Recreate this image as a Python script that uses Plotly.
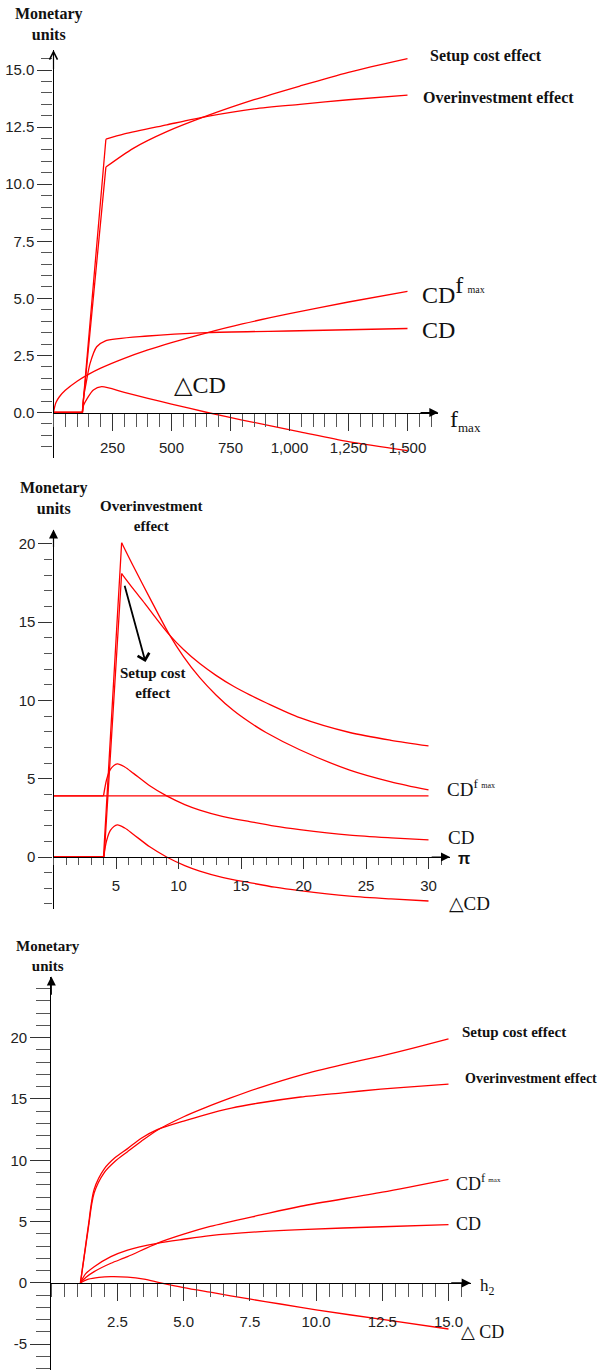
import plotly.graph_objects as go

W, H = 602, 1370
RED = "#ff0000"
SERIF = "Liberation Serif, Times New Roman, DejaVu Serif, serif"
SANS = "Liberation Sans, Arial, Helvetica, sans-serif"

# ---------------- Panel 1 : f_max ----------------
f_setup_x = [0, 122, 222, 338, 480, 652, 850, 1044, 1250, 1500]
f_setup_y = [0, 0, 10.75, 11.57, 12.3, 13.0, 13.7, 14.3, 14.9, 15.5]
f_over_x = [0, 122, 222, 300, 480, 652, 850, 1044, 1250, 1500]
f_over_y = [0, 0, 11.97, 12.2, 12.6, 12.97, 13.3, 13.5, 13.7, 13.9]
f_cdf_x = [0, 10, 25, 50, 100, 150, 200, 300, 400, 500, 650, 800, 1000, 1250, 1500]
f_cdf_y = [0, 0.43, 0.69, 0.97, 1.37, 1.68, 1.94, 2.37, 2.74, 3.06, 3.49, 3.88, 4.33, 4.84, 5.31]
f_cd_x = [0, 123, 128, 138, 155, 183, 218, 400, 650, 1044, 1500]
f_cd_y = [0, 0, 0.7, 1.28, 2.15, 2.88, 3.13, 3.35, 3.5, 3.58, 3.68]
f_dcd_x = [0, 123, 127, 143, 169, 204, 300, 400, 500, 652, 800, 1044, 1250, 1500]
f_dcd_y = [0, 0, 0.3, 0.62, 0.99, 1.13, 0.88, 0.62, 0.37, 0.0, -0.33, -0.85, -1.28, -1.67]
f_xticks = [250, 500, 750, 1000, 1250, 1500]
f_yticks = [0, 2.5, 5.0, 7.5, 10.0, 12.5, 15.0]

# ---------------- Panel 2 : pi ----------------
p_over_x = [0, 4.0, 5.45, 6.4, 7.7, 9.2, 10.4, 11.7, 13.0, 14.4, 15.7, 17.0, 19.7, 23.7, 27.0, 30.0]
p_over_y = [0, 0, 20.07, 18.55, 16.55, 14.3, 12.8, 11.45, 10.35, 9.35, 8.6, 7.95, 6.85, 5.55, 4.8, 4.28]
p_setup_x = [0, 4.05, 5.45, 6.4, 7.3, 8.2, 9.2, 10.4, 11.7, 13.0, 14.4, 15.7, 17.0, 19.7, 23.7, 27.0, 30.0]
p_setup_y = [0, 0, 18.1, 17.1, 16.2, 15.25, 14.25, 13.25, 12.35, 11.6, 10.9, 10.35, 9.85, 8.9, 7.95, 7.45, 7.09]
p_cdf_x = [0, 30]
p_cdf_y = [3.9, 3.9]
p_cd_x = [0, 4.0, 4.25, 4.55, 5.1, 5.7, 6.4, 7.7, 9.05, 10.5, 11.7, 13.5, 15.7, 17.7, 19.7, 23.7, 27.0, 30.0]
p_cd_y = [3.9, 3.9, 4.95, 5.6, 5.95, 5.75, 5.34, 4.55, 3.9, 3.35, 3.0, 2.6, 2.26, 1.97, 1.75, 1.4, 1.22, 1.09]
p_dcd_x = [0, 4.0, 4.25, 4.55, 5.1, 5.7, 6.4, 7.7, 9.05, 10.5, 11.7, 13.5, 15.7, 17.7, 19.7, 23.7, 27.0, 30.0]
p_dcd_y = [0, 0, 1.05, 1.7, 2.05, 1.85, 1.44, 0.65, 0, -0.55, -0.9, -1.3, -1.64, -1.93, -2.15, -2.5, -2.68, -2.81]
p_xticks = [5, 10, 15, 20, 25, 30]
p_yticks = [0, 5, 10, 15, 20]

# ---------------- Panel 3 : h2 ----------------
h_eff_x = [1.1, 1.43, 1.62, 2.0, 2.4, 2.88, 3.4, 4.0, 5.0, 5.77, 6.8, 7.91, 9.42, 11.0, 12.44, 13.7, 15.0]
h_setup_y = [0, 4.95, 7.35, 9.0, 9.9, 10.7, 11.55, 12.45, 13.55, 14.25, 15.1, 15.95, 16.95, 17.8, 18.5, 19.17, 19.9]
h_over_y = [0, 5.15, 7.65, 9.3, 10.2, 10.95, 11.8, 12.5, 13.2, 13.69, 14.25, 14.69, 15.16, 15.5, 15.8, 16.0, 16.2]
h_cd_x = [1.1, 1.3, 1.62, 2.25, 2.88, 4.0, 5.0, 6.0, 7.91, 9.42, 12.5, 15.0]
h_cd_y = [0, 0.75, 1.32, 2.14, 2.68, 3.23, 3.56, 3.85, 4.18, 4.35, 4.58, 4.75]
h_cdf_y = [0, 0.45, 0.92, 1.6, 2.14, 3.23, 3.97, 4.6, 5.54, 6.25, 7.4, 8.45]
h_dcd_x = [1.1, 1.4, 1.8, 2.25, 2.88, 3.5, 4.13, 5.0, 6.0, 7.53, 8.65, 10.0, 12.5, 15.0]
h_dcd_y = [0, 0.3, 0.45, 0.51, 0.47, 0.3, 0, -0.38, -0.76, -1.33, -1.72, -2.2, -2.98, -3.76]
h_xticks = [2.5, 5.0, 7.5, 10.0, 12.5, 15.0]
h_yticks = [-5, 0, 5, 10, 15, 20]

# ---------------- layout geometry (pixels) ----------------
# (x_origin_px, x_px_per_unit, x_end_px, y_zero_px, y_px_per_unit, y_top_px, y_bot_px)
geo = {
    1: (53.5, 0.236, 438.3, 412.5, 22.83, 50.0, 458.0),
    2: (53.5, 12.5, 450.0, 857.0, 15.66, 529.5, 908.5),
    3: (51.3, 26.48, 470.7, 1282.9, 12.264, 976.5, 1370.0),
}


def px2paper(x, y):
    return x / W, 1 - y / H


fig = go.Figure()


def add_line(panel, xs, ys, kink):
    """Straight segments up to index `kink`, smooth curve from there on."""
    sfx = "" if panel == 1 else str(panel)
    common = dict(mode="lines", xaxis="x" + sfx, yaxis="y" + sfx, showlegend=False,
                  hoverinfo="skip")
    if kink > 0:
        fig.add_trace(go.Scatter(x=xs[:kink + 1], y=ys[:kink + 1],
                                 line=dict(color=RED, width=1.3), **common))
    fig.add_trace(go.Scatter(x=xs[kink:], y=ys[kink:],
                             line=dict(color=RED, width=1.3, shape="spline", smoothing=0.8),
                             **common))


for xs, ys, k in [(f_setup_x, f_setup_y, 2), (f_over_x, f_over_y, 2), (f_cdf_x, f_cdf_y, 0),
                  (f_cd_x, f_cd_y, 1), (f_dcd_x, f_dcd_y, 1)]:
    add_line(1, xs, ys, k)
for xs, ys, k in [(p_over_x, p_over_y, 2), (p_setup_x, p_setup_y, 2), (p_cdf_x, p_cdf_y, 0),
                  (p_cd_x, p_cd_y, 1), (p_dcd_x, p_dcd_y, 1)]:
    add_line(2, xs, ys, k)
for xs, ys, k in [(h_eff_x, h_setup_y, 1), (h_eff_x, h_over_y, 1), (h_cd_x, h_cdf_y, 0),
                  (h_cd_x, h_cd_y, 0), (h_dcd_x, h_dcd_y, 0)]:
    add_line(3, xs, ys, k)


def fmt(vals, spec):
    if spec == ",":
        return [f"{v:,}" for v in vals]
    if spec == ".1f":
        return [f"{v:.1f}" for v in vals]
    return [f"{v:g}" for v in vals]


tick_spec = {
    1: dict(xt=f_xticks, xf=",", xminor=50, yt=f_yticks, yf=".1f", yminor=0.5,
            xlen=(17, 13), ylen=(15, 11), xstand=4),
    2: dict(xt=p_xticks, xf="g", xminor=1, yt=p_yticks, yf="g", yminor=1,
            xlen=(11, 7), ylen=(14, 8), xstand=4),
    3: dict(xt=h_xticks, xf=".1f", xminor=0.5, yt=h_yticks, yf="g", yminor=1,
            xlen=(17, 13), ylen=(20, 14), xstand=8),
}

annotations = []
for p in (1, 2, 3):
    x0, xppu, xend, y0, yppu, ytop, ybot = geo[p]
    xr = [0, (xend - x0) / xppu]
    yr = [-(ybot - y0) / yppu, (y0 - ytop) / yppu]
    ts = tick_spec[p]
    sfx = "" if p == 1 else str(p)
    xa = dict(domain=[x0 / W, xend / W], range=xr, anchor="free", position=1 - y0 / H,
              showline=True, linecolor="black", linewidth=1.2, showgrid=False, zeroline=False,
              ticks="outside", ticklen=ts["xlen"][0], tickwidth=1.3, tickcolor="#333",
              tickmode="array", tickvals=ts["xt"], ticktext=fmt(ts["xt"], ts["xf"]),
              ticklabelstandoff=ts["xstand"],
              tickfont=dict(family=SANS, size=15, color="#222"),
              minor=dict(tickmode="linear", tick0=0, dtick=ts["xminor"], ticks="outside",
                         ticklen=ts["xlen"][1], tickwidth=1.3, tickcolor="#555", showgrid=False),
              fixedrange=True)
    ya = dict(domain=[1 - ybot / H, 1 - ytop / H], range=yr, anchor="x" + sfx,
              showline=True, linecolor="black", linewidth=1.2, showgrid=False, zeroline=False,
              ticks="outside", ticklen=ts["ylen"][0], tickwidth=1.3, tickcolor="#333",
              tickmode="array", tickvals=ts["yt"], ticktext=fmt(ts["yt"], ts["yf"]),
              tickfont=dict(family=SANS, size=15, color="#222"),
              minor=dict(tickmode="linear", tick0=0, dtick=ts["yminor"], ticks="outside",
                         ticklen=ts["ylen"][1], tickwidth=1.3, tickcolor="#555", showgrid=False),
              fixedrange=True)
    fig.update_layout(**{"xaxis" + sfx: xa, "yaxis" + sfx: ya})

    # axis arrows
    annotations.append(dict(x=xr[1], y=0, ax=xr[1] - (xr[1] - xr[0]) * 0.05, ay=0,
                            xref="x" + sfx, yref="y" + sfx, axref="x" + sfx, ayref="y" + sfx,
                            text="", showarrow=True, arrowhead=2, arrowsize=1.5,
                            arrowwidth=1.2, arrowcolor="black", standoff=0))
    annotations.append(dict(x=0, y=yr[1], ax=0, ay=yr[1] - (yr[1] - yr[0]) * 0.05,
                            xref="x" + sfx, yref="y" + sfx, axref="x" + sfx, ayref="y" + sfx,
                            text="", showarrow=True, arrowhead=(5 if p == 1 else 2),
                            arrowsize=(1.3 if p == 1 else 1.5),
                            arrowwidth=1.2, arrowcolor="black", standoff=0))


def label(xpx, ypx, text, size, bold=False, family=SERIF, xanchor="left", align="left"):
    x, y = px2paper(xpx, ypx)
    if bold:
        text = "<b>" + text + "</b>"
    annotations.append(dict(x=x, y=y, xref="paper", yref="paper", text=text, showarrow=False,
                            xanchor=xanchor, yanchor="middle", align=align,
                            font=dict(family=family, size=size, color="#111")))


CDF_BIG = "CD<sup><span style='font-size:24px'>f</span> <span style='font-size:10px'>max</span></sup>"
CDF_MED = "CD<sup>f <span style='font-size:8px'>max</span></sup>"

# Panel 1 labels
label(49, 24, "Monetary<br>units", 16, bold=True, xanchor="center", align="center")
label(428, 56, "Setup cost effect", 16, bold=True)
label(421, 98, "Overinvestment effect", 16, bold=True)
label(420, 290, CDF_BIG, 24)
label(420, 330, "CD", 24)
label(172, 385, "△CD", 24)
label(448, 420, "f<sub><span style='font-size:13px'>max</span></sub>", 24)

# Panel 2 labels
label(54, 498, "Monetary<br>units", 16, bold=True, xanchor="center", align="center")
label(151, 516, "Overinvestment<br>effect", 15, bold=True, xanchor="center", align="center")
label(152, 683, "Setup cost<br>effect", 15, bold=True, xanchor="center", align="center")
label(445, 788, CDF_MED, 19)
label(446, 837, "CD", 19)
label(447, 904, "△CD", 19)
label(456, 858, "<b>π</b>", 16, family=SANS)

# Panel 3 labels
label(48, 956, "Monetary<br>units", 15, bold=True, xanchor="center", align="center")
label(460, 1032, "Setup cost effect", 15, bold=True)
label(463, 1078, "Overinvestment effect", 14, bold=True)
label(454, 1182, "CD<sup>f <span style='font-size:7px'>max</span></sup>", 18)
label(454, 1224, "CD", 18)
label(459, 1332, "△ CD", 18)
label(478, 1287, "h<sub>2</sub>", 17)

# Panel 2 pointer arrow (Setup cost effect)
annotations.append(dict(x=7.36, y=12.45, ax=5.66, ay=17.41, xref="x2", yref="y2",
                        axref="x2", ayref="y2", text="", showarrow=True, arrowhead=4,
                        arrowsize=1.3, arrowwidth=1.8, arrowcolor="black", standoff=0))

fig.update_layout(width=W, height=H, margin=dict(l=0, r=0, t=0, b=0),
                  paper_bgcolor="white", plot_bgcolor="white", showlegend=False,
                  annotations=annotations)

fig.write_html("out.html")
